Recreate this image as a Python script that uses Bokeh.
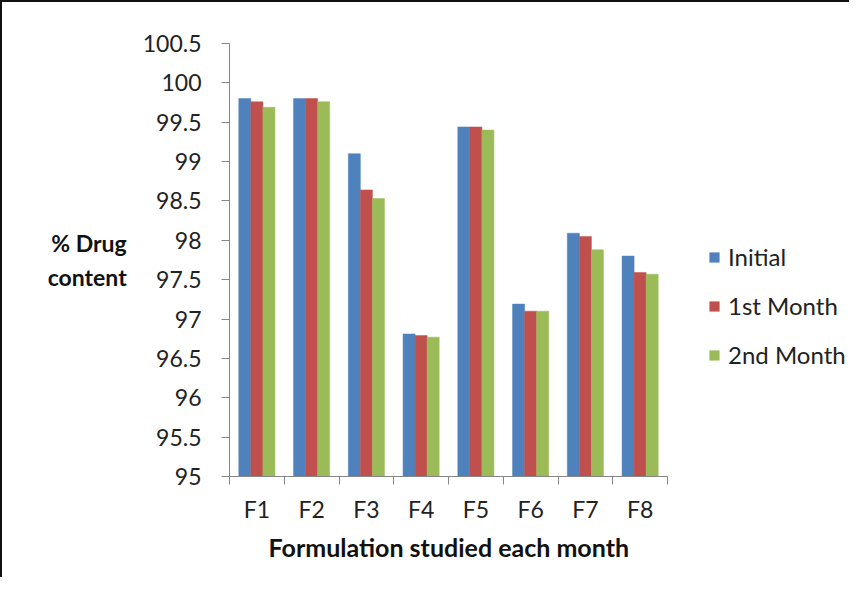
import numpy as np
from bokeh.plotting import figure
from bokeh.models import FixedTicker, Legend, LegendItem, Title
from bokeh.embed import file_html
from bokeh.resources import INLINE

categories = ["F1", "F2", "F3", "F4", "F5", "F6", "F7", "F8"]
series_names = ["Initial", "1st Month", "2nd Month"]
initial = [99.80, 99.80, 99.10, 96.81, 99.44, 97.19, 98.09, 97.80]
month1 = [99.76, 99.80, 98.64, 96.79, 99.44, 97.10, 98.05, 97.59]
month2 = [99.69, 99.76, 98.53, 96.77, 99.40, 97.10, 97.88, 97.57]
colors = ["#4F81BD", "#C0504D", "#9BBB59"]
y_ticks = [95, 95.5, 96, 96.5, 97, 97.5, 98, 98.5, 99, 99.5, 100, 100.5]
y_tick_labels = ["95", "95.5", "96", "96.5", "97", "97.5", "98", "98.5", "99", "99.5", "100", "100.5"]

FONT = "Lato"

W, H = 849, 577
LEFT, TOP, BOTTOM = 227, 41, 103
AXIS_PX = 438  # pixel length of the category axis
frame_w = W - LEFT
n = len(categories)
x_end = n * frame_w / AXIS_PX

p = figure(width=W, height=H, output_backend="svg", toolbar_location=None,
           x_range=(0, x_end), y_range=(95, 100.5),
           min_border_left=LEFT, min_border_right=0, min_border_top=TOP, min_border_bottom=BOTTOM)
p.styles = {"border-top": "2px solid #111111", "border-left": "2px solid #111111"}
p.outline_line_color = None
p.xgrid.visible = False
p.ygrid.visible = False
p.background_fill_color = "white"
p.border_fill_color = "white"

centers = np.arange(n) + 0.5
bw = 0.22
offsets = [-bw, 0.0, bw]
renderers = []
for vals, off, col in zip([initial, month1, month2], offsets, colors):
    r = p.vbar(x=centers + off, top=vals, bottom=95, width=bw,
               fill_color=col, line_color=col, line_width=0.5)
    renderers.append(r)

# y axis
ya = p.yaxis[0]
ya.ticker = FixedTicker(ticks=y_ticks, minor_ticks=[])
ya.major_label_overrides = {t: l for t, l in zip(y_ticks, y_tick_labels)}
ya.axis_line_color = "#868686"
ya.major_tick_line_color = "#868686"
ya.major_tick_out = 8
ya.major_tick_in = 0
ya.minor_tick_line_color = None
ya.major_label_standoff = 20
ya.major_label_text_font = FONT
ya.major_label_text_font_size = "23px"
ya.major_label_text_color = "#222222"
ya.axis_label = "% Drug\ncontent"
ya.axis_label_orientation = "horizontal"
ya.axis_label_text_font = FONT
ya.axis_label_text_font_style = "bold"
ya.axis_label_text_font_size = "23px"
ya.axis_label_text_color = "#111111"
ya.axis_label_standoff = 13

# x axis
xa = p.xaxis[0]
xa.bounds = (0, n)
xa.ticker = FixedTicker(ticks=list(centers), minor_ticks=list(range(n + 1)))
xa.major_label_overrides = {float(c): s for c, s in zip(centers, categories)}
xa.axis_line_color = "#868686"
xa.major_tick_line_color = None
xa.major_tick_out = 0
xa.major_tick_in = 0
xa.minor_tick_line_color = "#868686"
xa.minor_tick_out = 8
xa.minor_tick_in = 0
xa.major_label_standoff = 10
xa.major_label_text_font = FONT
xa.major_label_text_font_size = "23px"
xa.major_label_text_color = "#222222"

xtitle = Title(text="Formulation studied each month", align="left", offset=39,
               text_font=FONT, text_font_style="bold", text_font_size="25px",
               text_color="#111111", standoff=8)
p.add_layout(xtitle, "below")

legend = Legend(items=[LegendItem(label=s, renderers=[r]) for s, r in zip(series_names, renderers)],
                location=(479, 107), padding=0, margin=0, border_line_color=None,
                background_fill_alpha=0, glyph_width=12, glyph_height=12,
                label_standoff=8, label_height=28, spacing=20,
                label_text_font=FONT, label_text_font_size="24px", label_text_color="#222222")
p.add_layout(legend, "center")

open("out.html", "w").write(file_html(p, INLINE))
